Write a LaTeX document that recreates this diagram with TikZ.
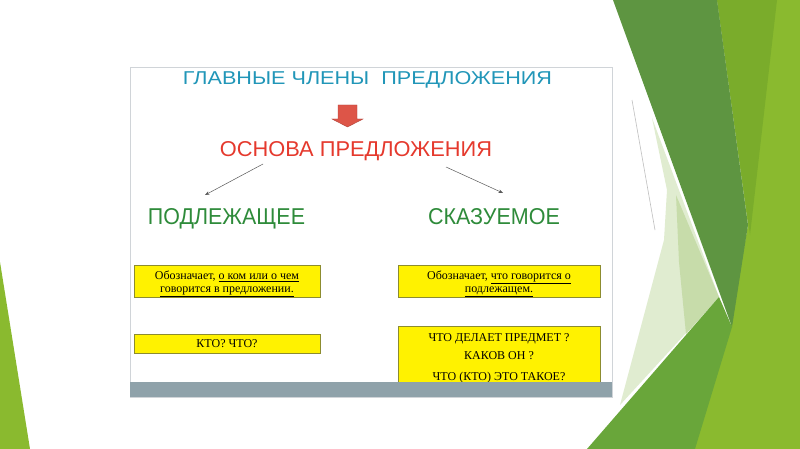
\documentclass[tikz,border=0pt]{standalone}
\usepackage{fontspec}
\setmainfont{Liberation Serif}
\newfontfamily\hsans{Liberation Sans}
\usetikzlibrary{arrows.meta}
\definecolor{lgreen}{HTML}{8ABA2F}
\definecolor{bandgreen}{HTML}{7AAC2B}
\definecolor{dgreen}{HTML}{5E9541}
\definecolor{mgreen}{HTML}{69A63A}
\definecolor{paleA}{HTML}{E0ECD0}
\definecolor{paleB}{HTML}{C7DCAA}
\definecolor{titleblue}{HTML}{2196B8}
\definecolor{basered}{HTML}{E5392D}
\definecolor{headgreen}{HTML}{2E8B3A}
\definecolor{arrred}{HTML}{DD5548}
\definecolor{boxedge}{HTML}{8C8C30}
\definecolor{barcol}{HTML}{8FA2AA}
\definecolor{framecol}{HTML}{D0D4D8}
\tikzset{
  heading/.style={anchor=base, inner sep=0pt, font=\hsans},
  ybox/.style={draw=boxedge, fill=yellow, line width=0.6pt, inner sep=0pt},
  boxtext/.style={inner sep=0pt, align=center, font=\fontsize{12}{13}\selectfont},
  thinarrow/.style={draw=black!65, line width=0.5pt, -{Stealth[length=4.5pt,width=3.5pt]}}
}
\begin{document}
\begin{tikzpicture}[x=1pt,y=-1pt]
\useasboundingbox (0,0) rectangle (800,449);
\fill[white] (0,0) rectangle (800,449);
% background decoration
\fill[lgreen] (717,0) -- (800,0) -- (800,449) -- (692,449) -- (730,327) -- (748,225) -- cycle;
\fill[bandgreen] (717,0) -- (777,0) -- (750,235) -- cycle;
\fill[dgreen] (613,0) -- (717,0) -- (748,225) -- (732,327) -- cycle;
\fill[paleA] (652,118) -- (719,297) -- (620,405) -- (664,240) -- (667,190) -- cycle;
\fill[paleB] (676,195) -- (719,297) -- (686,334) -- (679,262) -- cycle;
\fill[mgreen] (587,449) -- (719,297) -- (732,327) -- (695,449) -- cycle;
\draw[black!25, line width=0.6pt] (632,100) -- (655,230);
\fill[lgreen] (0,262) -- (30,449) -- (0,449) -- cycle;
% slide frame
\draw[framecol, fill=white, line width=0.8pt] (130,67) rectangle (612,397);
% headings
\node[heading, text=titleblue] (title) at (367.5,85) {\resizebox{369pt}{13pt}{ГЛАВНЫЕ ЧЛЕНЫ\ \ ПРЕДЛОЖЕНИЯ}};
\fill[arrred, draw=arrred!80!black, line width=0.4pt] (338,105) -- (357,105) -- (357,119) -- (363,119) -- (347.5,127) -- (332,119) -- (338,119) -- cycle;
\node[heading, text=basered] (osnova) at (356,157) {\resizebox{272pt}{15pt}{ОСНОВА\ ПРЕДЛОЖЕНИЯ}};
\node[heading, text=headgreen] (podl) at (226.5,224) {\resizebox{157pt}{16pt}{ПОДЛЕЖАЩЕЕ}};
\node[heading, text=headgreen] (skaz) at (494,224) {\resizebox{132pt}{16pt}{СКАЗУЕМОЕ}};
% connectors
\coordinate (ls) at (263,164);
\coordinate (le) at (205,195);
\coordinate (rs) at (446,167);
\coordinate (re) at (503,193);
\draw[thinarrow] (ls) -- (le);
\draw[thinarrow] (rs) -- (re);
% yellow boxes
\node[ybox, minimum width=186pt, minimum height=32pt] (b1) at (227,281) {};
\node[boxtext] (t1) at (227,284)
  {Обозначает, \underline{о ком или о чем}\\ \underline{говорится в предложении.}};
\node[ybox, minimum width=186pt, minimum height=19pt, font=\fontsize{12}{13}\selectfont] (b2) at (227,343.5) {КТО? ЧТО?};
\node[ybox, minimum width=202pt, minimum height=32pt] (b3) at (499,281) {};
\node[boxtext] (t3) at (499,284)
  {Обозначает, \underline{что говорится о}\\ \underline{подлежащем.}};
\node[ybox, minimum width=202pt, minimum height=62pt] (b4) at (499,357) {};
\node[boxtext, font=\fontsize{12}{18}\selectfont] (t4) at (499,358)
  {ЧТО ДЕЛАЕТ ПРЕДМЕТ ?\\ КАКОВ ОН ?\\[3pt] ЧТО (КТО) ЭТО ТАКОЕ?};
% bottom bar
\fill[barcol] (130,382) rectangle (612,397);
\end{tikzpicture}
\end{document}
